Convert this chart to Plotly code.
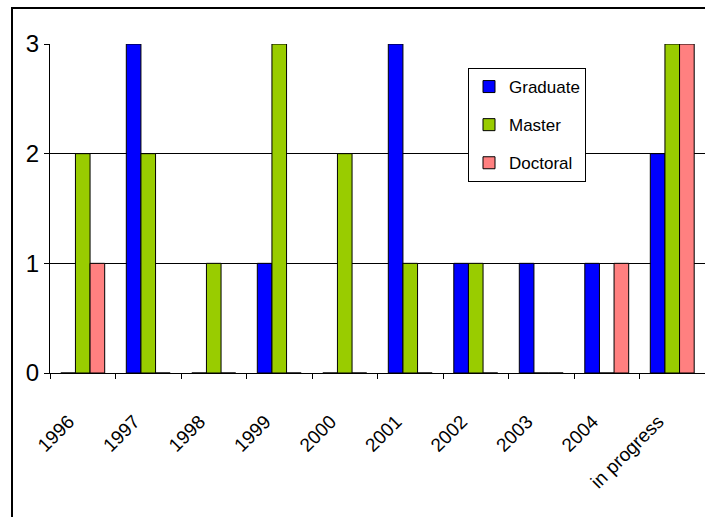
import plotly.graph_objects as go

# Completed degrees per year, by programme
years = ["1996", "1997", "1998", "1999", "2000", "2001", "2002", "2003", "2004", "in progress"]
graduate = [0, 3, 0, 1, 0, 3, 1, 1, 1, 2]
master = [2, 2, 1, 3, 2, 1, 1, 0, 0, 3]
doctoral = [1, 0, 0, 0, 0, 0, 0, 0, 1, 3]

series = [
    ("Graduate", graduate, "#0000FF"),
    ("Master", master, "#99CC00"),
    ("Doctoral", doctoral, "#FF8080"),
]

W, H = 705, 517
ML, MR, MT, MB = 50, 0, 44, 144
FONT = "Liberation Sans, Arial, sans-serif"

fig = go.Figure()
for i, (name, vals, color) in enumerate(series):
    fig.add_trace(go.Bar(
        x=years, y=vals, name=name, legendgroup=f"g{i}",
        marker=dict(color=color, line=dict(color="black", width=1)),
    ))

# pixel -> paper helpers for the outer chart frame
pw, ph = W - ML - MR, H - MT - MB
def px(x):
    return (x - ML) / pw
def py(y):
    return (H - MB - y) / ph

fig.add_shape(type="rect", xref="paper", yref="paper",
              x0=px(12), x1=px(760), y0=py(8), y1=py(560),
              line=dict(color="black", width=2), fillcolor="rgba(0,0,0,0)")

fig.update_layout(
    width=W, height=H,
    margin=dict(l=ML, r=MR, t=MT, b=MB),
    paper_bgcolor="white", plot_bgcolor="white",
    barmode="group", bargap=0.33, bargroupgap=0,
    font=dict(family=FONT, color="black"),
    legend=dict(
        x=px(468), y=py(68), xanchor="left", yanchor="top",
        bgcolor="white", bordercolor="black", borderwidth=1,
        font=dict(size=17), tracegroupgap=13, itemwidth=30,
    ),
    xaxis=dict(
        type="category", showline=True, linecolor="black", linewidth=1,
        ticks="outside", tickson="boundaries", ticklen=5, tickcolor="black",
        tickangle=-45, tickfont=dict(size=19),
        ticklabelstandoff=29, ticklabelshift=-14,
        showgrid=False,
    ),
    yaxis=dict(
        range=[0, 3], tickvals=[0, 1, 2, 3], showline=True, linecolor="black",
        linewidth=1, ticks="outside", ticklen=5, tickcolor="black",
        showgrid=True, gridcolor="black", gridwidth=1, zeroline=False,
        tickfont=dict(size=24),
    ),
)

fig.write_html("out.html")
